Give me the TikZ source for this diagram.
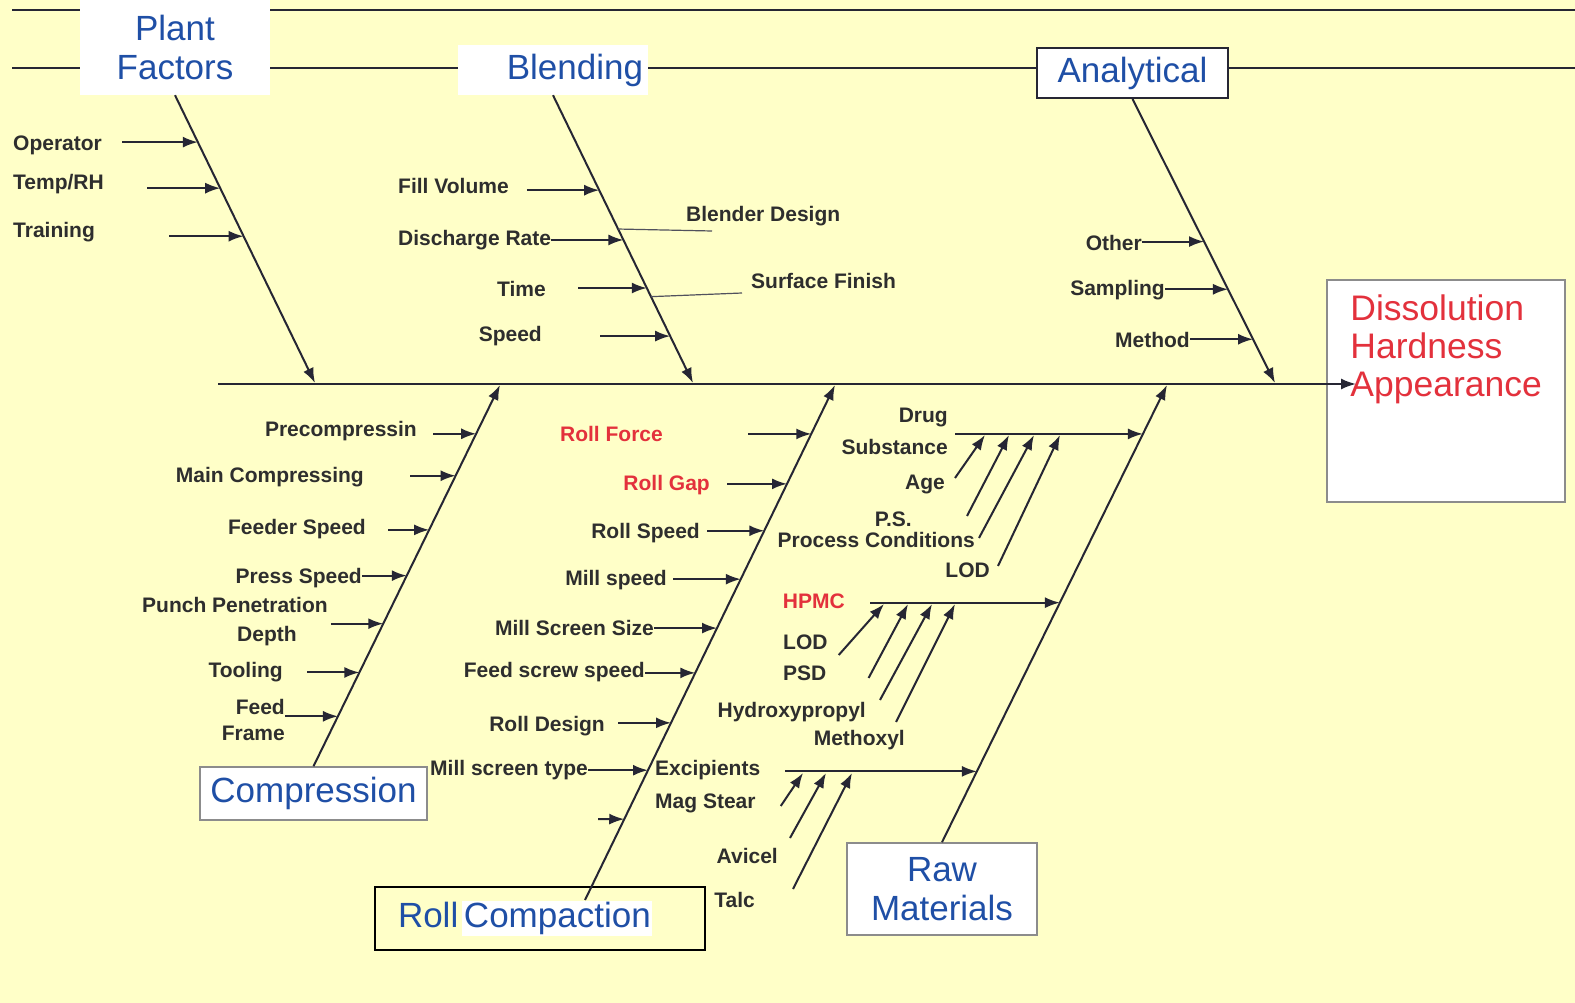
\documentclass[tikz,border=0pt]{standalone}
\usepackage{fontspec}
\setmainfont{Liberation Sans}
\usepackage{tikz}
\usetikzlibrary{arrows.meta,positioning,calc}
\definecolor{bgyellow}{HTML}{FFFFC8}
\definecolor{ink}{HTML}{262634}
\definecolor{cause}{HTML}{2E2E2E}
\definecolor{titleblue}{HTML}{1F4FA6}
\definecolor{effectred}{HTML}{E3313C}
\definecolor{boxgray}{HTML}{8C8C8C}
\setlength{\fboxsep}{1.5pt}
\tikzset{
  lbl/.style={font=\fontsize{21}{26}\selectfont\bfseries, text=cause, inner sep=0pt},
  lblred/.style={lbl, text=effectred},
  titlebox/.style={rectangle, font=\fontsize{35}{39}\selectfont, text=titleblue, align=center, fill=white},
  bone/.style={line width=2pt, draw=ink},
  arr/.style={-{Latex[length=15pt,width=11pt]}, line width=2pt, draw=ink},
  twig/.style={line width=1.2pt, draw=ink!80},
}

\begin{document}
\begin{tikzpicture}[x=1pt, y=-1pt]
        \useasboundingbox (0,0) rectangle (1575,1003);
        \fill[bgyellow] (0,0) rectangle (1575,1003);
        \draw[bone] (12,10) -- (1575,10);
        \draw[bone] (12,68) -- (1575,68);

        \node[titlebox, minimum width=190, minimum height=95] (pf) at (175,47.5) {Plant\\Factors};
        \node[titlebox, text width=180pt, inner xsep=5pt, align=right, minimum height=50] (bl) at (553,70) {Blending};
        \node[titlebox, draw=ink, line width=2pt, minimum width=191, minimum height=50] (an) at (1132.5,73) {Analytical};

        \node[rectangle, draw=boxgray, line width=1.5pt, fill=white, minimum width=238, minimum height=222] (res) at (1446,391) {};
        \node[font=\fontsize{35.5}{38}\selectfont, text=effectred, align=left, inner sep=0pt, anchor=north west] (restxt)
          at ([xshift=24pt, yshift=-15pt]res.north west) {Dissolution\\Hardness\\Appearance};

        \coordinate (sp0) at (218,384);
        \coordinate (sp1) at (1356,384);
        \draw[arr] (sp0) -- (sp1);

        \coordinate (pfB) at (315,383);
        \draw[arr] (pf.south) -- (pfB);
        \coordinate (pf1) at ($(pf.south)!0.163!(pfB)$);
        \coordinate (pf2) at ($(pf.south)!0.323!(pfB)$);
        \coordinate (pf3) at ($(pf.south)!0.490!(pfB)$);
        \node[lbl, anchor=west] (oper) at (13,145) {Operator};
        \node[lbl, anchor=west] (temp) at (13,184) {Temp/RH};
        \node[lbl, anchor=west] (train) at (13,232) {Training};
        \draw[arr] ([xshift=20pt]pf1 -| oper.east) -- (pf1);
        \draw[arr] ([xshift=43pt]pf2 -| temp.east) -- (pf2);
        \draw[arr] ([xshift=74pt]pf3 -| train.east) -- (pf3);

        \coordinate (blB) at (693,383);
        \draw[arr] (bl.south) -- (blB);
        \coordinate (bl1) at ($(bl.south)!0.330!(blB)$);
        \coordinate (bl2) at ($(bl.south)!0.503!(blB)$);
        \coordinate (bl3) at ($(bl.south)!0.670!(blB)$);
        \coordinate (bl4) at ($(bl.south)!0.837!(blB)$);
        \coordinate (bl5) at ($(bl.south)!0.465!(blB)$);
        \coordinate (bl6) at ($(bl.south)!0.700!(blB)$);
        \node[lbl, anchor=west] (fillv) at (398,186) {Fill Volume};
        \node[lbl, anchor=west] (disch) at (398,240) {Discharge Rate};
        \node[lbl, anchor=east] (time) at (546,289) {Time};
        \node[lbl, anchor=east] (speed) at (542,336) {Speed};
        \node[lbl, anchor=west] (blend) at (686,216) {Blender Design};
        \node[lbl, anchor=west] (surf) at (751,281) {Surface Finish};
        \draw[arr] ([xshift=18pt]bl1 -| fillv.east) -- (bl1);
        \draw[arr] (bl2 -| disch.east) -- (bl2);
        \draw[arr] ([xshift=32pt]bl3 -| time.east) -- (bl3);
        \draw[arr] ([xshift=58pt]bl4 -| speed.east) -- (bl4);
        \draw[twig] (bl5) -- ([xshift=26pt, yshift=-15pt]blend.west);
        \draw[twig] (bl6) -- ([xshift=-9pt, yshift=-12pt]surf.west);

        \coordinate (anB) at (1275,383);
        \draw[arr] (an.south) -- (anB);
        \coordinate (an1) at ($(an.south)!0.502!(anB)$);
        \coordinate (an2) at ($(an.south)!0.670!(anB)$);
        \coordinate (an3) at ($(an.south)!0.846!(anB)$);
        \node[lbl, anchor=east] (other) at (1142,243) {Other};
        \node[lbl, anchor=east] (samp) at (1165,290) {Sampling};
        \node[lbl, anchor=east] (meth) at (1190,340) {Method};
        \draw[arr] (an1 -| other.east) -- (an1);
        \draw[arr] (an2 -| samp.east) -- (an2);
        \draw[arr] (an3 -| meth.east) -- (an3);

        \node[titlebox, draw=boxgray, line width=1.5pt, minimum width=227, minimum height=53] (cp) at (313.5,793.5) {Compression};
        \coordinate (cpB) at (500,385);
        \draw[arr] (cp.north) -- (cpB);
        \coordinate (cp1) at ($(cp.north)!0.872!(cpB)$);
        \coordinate (cp2) at ($(cp.north)!0.762!(cpB)$);
        \coordinate (cp3) at ($(cp.north)!0.620!(cpB)$);
        \coordinate (cp4) at ($(cp.north)!0.500!(cpB)$);
        \coordinate (cp5) at ($(cp.north)!0.374!(cpB)$);
        \coordinate (cp6) at ($(cp.north)!0.246!(cpB)$);
        \coordinate (cp7) at ($(cp.north)!0.131!(cpB)$);
        \node[lbl, anchor=east] (prec) at (417,431) {Precompressin};
        \node[lbl, anchor=east] (mainc) at (364,477) {Main Compressing};
        \node[lbl, anchor=east] (feeder) at (366,529) {Feeder Speed};
        \node[lbl, anchor=east] (press) at (362,578) {Press Speed};
        \node[lbl, anchor=west] (punch) at (142,605) {Punch Penetration};
        \node[lbl, anchor=west] (depth) at (237,636) {Depth};
        \node[lbl, anchor=east] (tool) at (283,672) {Tooling};
        \node[lbl, anchor=east, align=right] (ffr) at (285,720) {Feed\\Frame};
        \draw[arr] ([xshift=16pt]cp1 -| prec.east) -- (cp1);
        \draw[arr] ([xshift=46pt]cp2 -| mainc.east) -- (cp2);
        \draw[arr] ([xshift=22pt]cp3 -| feeder.east) -- (cp3);
        \draw[arr] (cp4 -| press.east) -- (cp4);
        \draw[arr] ([xshift=3pt]cp5 -| punch.east) -- (cp5);
        \draw[arr] ([xshift=24pt]cp6 -| tool.east) -- (cp6);
        \draw[arr] (cp7 -| ffr.east) -- (cp7);

        \node[titlebox, fill=none, draw=black, line width=2.5pt, text width=284pt, inner xsep=23pt, align=left, minimum height=63] (rc)
          at (540,918.5) {Roll\hspace{0.12em}\colorbox{white}{Compaction}};
        \coordinate (rcT) at (585,900);
        \coordinate (rcB) at (835,385);
        \draw[arr] (rcT) -- (rcB);
        \coordinate (rc1) at ($(rcT)!0.905!(rcB)$);
        \coordinate (rc2) at ($(rcT)!0.808!(rcB)$);
        \coordinate (rc3) at ($(rcT)!0.717!(rcB)$);
        \coordinate (rc4) at ($(rcT)!0.623!(rcB)$);
        \coordinate (rc5) at ($(rcT)!0.528!(rcB)$);
        \coordinate (rc6) at ($(rcT)!0.441!(rcB)$);
        \coordinate (rc7) at ($(rcT)!0.344!(rcB)$);
        \coordinate (rc8) at ($(rcT)!0.252!(rcB)$);
        \coordinate (rc9) at ($(rcT)!0.157!(rcB)$);
        \node[lblred, anchor=east] (force) at (663,434) {Roll Force};
        \node[lblred, anchor=east] (gap) at (710,485) {Roll Gap};
        \node[lbl, anchor=east] (rspeed) at (700,533) {Roll Speed};
        \node[lbl, anchor=east] (mills) at (667,580) {Mill speed};
        \node[lbl, anchor=east] (msize) at (654,628) {Mill Screen Size};
        \node[lbl, anchor=east] (fscrew) at (645,672) {Feed screw speed};
        \node[lbl, anchor=east] (rdes) at (605,726) {Roll Design};
        \node[lbl, anchor=east] (mtype) at (588,770) {Mill screen type};
        \draw[arr] ([xshift=85pt]rc1 -| force.east) -- (rc1);
        \draw[arr] ([xshift=17pt]rc2 -| gap.east) -- (rc2);
        \draw[arr] ([xshift=7pt]rc3 -| rspeed.east) -- (rc3);
        \draw[arr] ([xshift=6pt]rc4 -| mills.east) -- (rc4);
        \draw[arr] (rc5 -| msize.east) -- (rc5);
        \draw[arr] (rc6 -| fscrew.east) -- (rc6);
        \draw[arr] ([xshift=13pt]rc7 -| rdes.east) -- (rc7);
        \draw[arr] (rc8 -| mtype.east) -- (rc8);
        \coordinate (rcx) at (598,819);
        \draw[arr] (rcx) -- (rc9);

        \node[titlebox, draw=boxgray, line width=1.5pt, minimum width=190, minimum height=92] (rm) at (942,889) {Raw\\Materials};
        \coordinate (rmB) at (1167,385);
        \draw[arr] (rm.north) -- (rmB);
        \coordinate (rm1) at ($(rm.north)!0.893!(rmB)$);
        \coordinate (rm2) at ($(rm.north)!0.524!(rmB)$);
        \coordinate (rm3) at ($(rm.north)!0.155!(rmB)$);

        \node[lbl, anchor=east, align=right] (drug) at (948,431) {Drug\\[6pt]Substance};
        \draw[arr] ([xshift=7pt]rm1 -| drug.east) -- (rm1);
        \coordinate (ds1) at (985,435);
        \coordinate (ds2) at (1009,435);
        \coordinate (ds3) at (1034,435);
        \coordinate (ds4) at (1060,435);
        \node[lbl, anchor=east] (age) at (945,484) {Age};
        \node[lbl, anchor=east] (ps) at (912,519) {P.S.};
        \node[lbl, anchor=east] (proc) at (975,540) {Process Conditions};
        \node[lbl, anchor=east] (lod1) at (990,570) {LOD};
        \draw[arr] ([xshift=10pt, yshift=6pt]age.east) -- (ds1);
        \draw[arr] ([xshift=55pt, yshift=3pt]ps.east) -- (ds2);
        \draw[arr] ([xshift=4pt, yshift=2pt]proc.east) -- (ds3);
        \draw[arr] ([xshift=8pt, yshift=4pt]lod1.east) -- (ds4);

        \node[lblred, anchor=east] (hpmc) at (845,601) {HPMC};
        \draw[arr] ([xshift=25pt]rm2 -| hpmc.east) -- (rm2);
        \coordinate (hp1) at (884,604);
        \coordinate (hp2) at (908,604);
        \coordinate (hp3) at (932,604);
        \coordinate (hp4) at (955,604);
        \node[lbl, anchor=west] (lod2) at (783,642) {LOD};
        \node[lbl, anchor=west] (psd) at (783,673) {PSD};
        \node[lbl, anchor=east] (hydro) at (866,712) {Hydroxypropyl};
        \node[lbl, anchor=east] (methx) at (905,740) {Methoxyl};
        \draw[arr] ([xshift=11pt, yshift=-13pt]lod2.east) -- (hp1);
        \draw[arr] ([xshift=42pt, yshift=-5pt]psd.east) -- (hp2);
        \draw[arr] ([xshift=14pt, yshift=12pt]hydro.east) -- (hp3);
        \draw[arr] ([xshift=-9pt, yshift=18pt]methx.east) -- (hp4);

        \node[lbl, anchor=west] (excip) at (655,770) {Excipients};
        \draw[arr] ([xshift=25pt]rm3 -| excip.east) -- (rm3);
        \coordinate (ex1) at (803,773);
        \coordinate (ex2) at (826,773);
        \coordinate (ex3) at (852,773);
        \node[lbl, anchor=west] (mag) at (655,803) {Mag Stear};
        \node[lbl, anchor=east] (avic) at (778,856) {Avicel};
        \node[lbl, anchor=east] (talc) at (755,900) {Talc};
        \draw[arr] ([xshift=25pt, yshift=-3pt]mag.east) -- (ex1);
        \draw[arr] ([xshift=12pt, yshift=18pt]avic.east) -- (ex2);
        \draw[arr] ([xshift=38pt, yshift=11pt]talc.east) -- (ex3);
      \end{tikzpicture}
\end{document}
